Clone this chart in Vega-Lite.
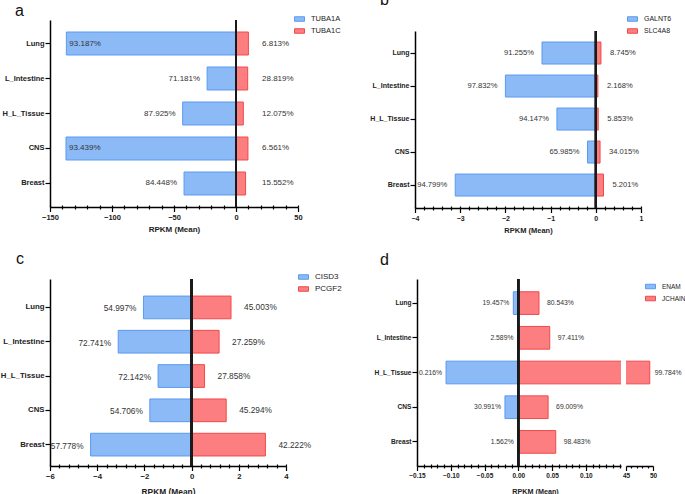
{
  "$schema": "https://vega.github.io/schema/vega-lite/v6.json",
  "locale": {"number": {"decimal": ".", "thousands": ",", "grouping": [3], "currency": ["$", ""], "minus": "-"}},
  "background": "white",
  "padding": {"left": 0, "top": -9, "right": 0, "bottom": 0},
  "spacing": 16,
  "config": {
    "font": "Liberation Sans",
    "view": {"stroke": null},
    "axis": {"domainColor": "#000", "domainWidth": 1.5, "tickColor": "#000", "tickWidth": 1.2, "labelColor": "#222", "titleColor": "#222", "labelFontWeight": "bold", "titleFontWeight": "bold", "grid": false, "labelOverlap": false, "labelFlush": false},
    "legend": {"title": null, "orient": "none", "padding": 0, "symbolType": "M-1,-0.45H1V0.45H-1Z", "symbolSize": 100, "symbolStrokeWidth": 1, "labelFontSize": 7.5, "labelColor": "#222", "labelOffset": 6, "rowPadding": 2},
    "title": {"fontWeight": "normal", "fontSize": 16, "anchor": "start", "frame": "group", "color": "#111", "offset": 0}
  },
  "datasets": {
    "a": [
      {"tissue": "Lung", "gene": "TUBA1A", "value": -136.8, "label": "93.187%"},
      {"tissue": "Lung", "gene": "TUBA1C", "value": 10.0, "label": "6.813%"},
      {"tissue": "L_Intestine", "gene": "TUBA1A", "value": -23.3, "label": "71.181%"},
      {"tissue": "L_Intestine", "gene": "TUBA1C", "value": 9.43, "label": "28.819%"},
      {"tissue": "H_L_Tissue", "gene": "TUBA1A", "value": -43.0, "label": "87.925%"},
      {"tissue": "H_L_Tissue", "gene": "TUBA1C", "value": 5.9, "label": "12.075%"},
      {"tissue": "CNS", "gene": "TUBA1A", "value": -137.1, "label": "93.439%"},
      {"tissue": "CNS", "gene": "TUBA1C", "value": 9.63, "label": "6.561%"},
      {"tissue": "Breast", "gene": "TUBA1A", "value": -41.9, "label": "84.448%"},
      {"tissue": "Breast", "gene": "TUBA1C", "value": 7.72, "label": "15.552%"}
    ],
    "b": [
      {"tissue": "Lung", "gene": "GALNT6", "value": -1.19, "label": "91.255%"},
      {"tissue": "Lung", "gene": "SLC4A8", "value": 0.114, "label": "8.745%"},
      {"tissue": "L_Intestine", "gene": "GALNT6", "value": -2.0, "label": "97.832%"},
      {"tissue": "L_Intestine", "gene": "SLC4A8", "value": 0.046, "label": "2.168%"},
      {"tissue": "H_L_Tissue", "gene": "GALNT6", "value": -0.86, "label": "94.147%"},
      {"tissue": "H_L_Tissue", "gene": "SLC4A8", "value": 0.0535, "label": "5.853%"},
      {"tissue": "CNS", "gene": "GALNT6", "value": -0.183, "label": "65.985%"},
      {"tissue": "CNS", "gene": "SLC4A8", "value": 0.0943, "label": "34.015%"},
      {"tissue": "Breast", "gene": "GALNT6", "value": -3.11, "label": "94.799%"},
      {"tissue": "Breast", "gene": "SLC4A8", "value": 0.171, "label": "5.201%"}
    ],
    "c": [
      {"tissue": "Lung", "gene": "CISD3", "value": -2.04, "label": "54.997%"},
      {"tissue": "Lung", "gene": "PCGF2", "value": 1.67, "label": "45.003%"},
      {"tissue": "L_Intestine", "gene": "CISD3", "value": -3.11, "label": "72.741%"},
      {"tissue": "L_Intestine", "gene": "PCGF2", "value": 1.165, "label": "27.259%"},
      {"tissue": "H_L_Tissue", "gene": "CISD3", "value": -1.42, "label": "72.142%"},
      {"tissue": "H_L_Tissue", "gene": "PCGF2", "value": 0.548, "label": "27.858%"},
      {"tissue": "CNS", "gene": "CISD3", "value": -1.77, "label": "54.706%"},
      {"tissue": "CNS", "gene": "PCGF2", "value": 1.466, "label": "45.294%"},
      {"tissue": "Breast", "gene": "CISD3", "value": -4.28, "label": "57.778%"},
      {"tissue": "Breast", "gene": "PCGF2", "value": 3.128, "label": "42.222%"}
    ],
    "d": [
      {"tissue": "Lung", "gene": "ENAM", "value": -0.0074, "label": "19.457%"},
      {"tissue": "Lung", "gene": "JCHAIN", "value": 0.0306, "label": "80.543%"},
      {"tissue": "L_Intestine", "gene": "ENAM", "value": -0.00124, "label": "2.589%"},
      {"tissue": "L_Intestine", "gene": "JCHAIN", "value": 0.0465, "label": "97.411%"},
      {"tissue": "H_L_Tissue", "gene": "ENAM", "value": -0.107, "label": "0.216%"},
      {"tissue": "H_L_Tissue", "gene": "JCHAIN", "value": 49.4, "label": "99.784%"},
      {"tissue": "CNS", "gene": "ENAM", "value": -0.0198, "label": "30.991%"},
      {"tissue": "CNS", "gene": "JCHAIN", "value": 0.0441, "label": "69.009%"},
      {"tissue": "Breast", "gene": "ENAM", "value": -0.00088, "label": "1.562%"},
      {"tissue": "Breast", "gene": "JCHAIN", "value": 0.0554, "label": "98.483%"}
    ]
  },
  "resolve": {"scale": {"fill": "independent", "stroke": "independent", "x": "independent", "y": "independent"}, "legend": {"fill": "independent", "stroke": "independent"}},
  "vconcat": [
    {
      "hconcat": [
        {
          "width": 248, "height": 187,
          "data": {"name": "a"},
          "title": {"text": "a", "dx": -35, "dy": 9},
          "resolve": {"axis": {"x": "independent"}},
          "layer": [
            {
              "mark": {"type": "bar", "strokeWidth": 1},
              "encoding": {
                "y": {"field": "tissue", "type": "nominal", "scale": {"domain": ["Lung", "L_Intestine", "H_L_Tissue", "CNS", "Breast"], "paddingInner": 0.343, "paddingOuter": 0.343, "align": 0.5}, "axis": {"title": null, "tickSize": 5, "labelPadding": 1, "labelFontSize": 7.5}},
                "x": {"field": "value", "type": "quantitative", "scale": {"domain": [-150, 50], "nice": false, "zero": false},
                  "axis": {"orient": "bottom", "title": "RPKM (Mean)", "values": [-150, -100, -50, 0, 50], "format": "d", "tickSize": 4.5, "labelFontSize": 7.5, "titleFontSize": 8, "labelPadding": 2, "titlePadding": 4}},
                "fill": {"field": "gene", "type": "nominal", "scale": {"domain": ["TUBA1A", "TUBA1C"], "range": ["#8cbaf6", "#fd7e80"]}, "legend": {"legendX": 244, "legendY": -6.5}},
                "stroke": {"field": "gene", "type": "nominal", "scale": {"domain": ["TUBA1A", "TUBA1C"], "range": ["#5a9af0", "#f04a4a"]}, "legend": {"legendX": 244, "legendY": -6.5}}
              }
            },
            {"mark": {"type": "rule", "color": "#1a1a1a", "strokeWidth": 1.8}, "encoding": {"x": {"datum": 0, "type": "quantitative", "axis": {"orient": "bottom", "title": null, "labels": false, "domain": false, "tickSize": 2, "values": [-140, -130, -120, -110, -90, -80, -70, -60, -40, -30, -20, -10, 10, 20, 30, 40]}}}},
            {
              "transform": [{"filter": "datum.gene === 'TUBA1A' && datum.value < -100"}],
              "mark": {"type": "text", "align": "left", "baseline": "middle", "dx": 3, "fontSize": 8, "color": "#333"},
              "encoding": {"y": {"field": "tissue", "type": "nominal"}, "x": {"field": "value", "type": "quantitative", "axis": {"orient": "bottom", "title": null, "labels": false, "domain": false, "tickSize": -2, "values": [-150, -140, -130, -120, -110, -100, -90, -80, -70, -60, -50, -40, -30, -20, -10, 0, 10, 20, 30, 40, 50]}}, "text": {"field": "label"}}
            },
            {
              "transform": [{"filter": "datum.gene === 'TUBA1A' && datum.value >= -100"}],
              "mark": {"type": "text", "align": "right", "baseline": "middle", "dx": -7, "fontSize": 8, "color": "#333"},
              "encoding": {"y": {"field": "tissue", "type": "nominal"}, "x": {"field": "value", "type": "quantitative", "axis": null}, "text": {"field": "label"}}
            },
            {
              "transform": [{"filter": "datum.gene === 'TUBA1C'"}],
              "mark": {"type": "text", "align": "left", "baseline": "middle", "fontSize": 8, "color": "#333"},
              "encoding": {"y": {"field": "tissue", "type": "nominal"}, "x": {"datum": 21, "type": "quantitative", "axis": null}, "text": {"field": "label"}}
            }
          ]
        },
        {
          "vconcat": [
            {"width": 10, "height": 11, "data": {"values": [{"k": 1}]}, "mark": {"type": "point", "opacity": 0}, "encoding": {}},
            {
              "width": 226, "height": 177,
              "data": {"name": "b"},
              "title": {"text": "b", "dx": -35, "dy": -2},
              "resolve": {"axis": {"x": "independent"}},
              "layer": [
                {
                  "mark": {"type": "bar", "strokeWidth": 1},
                  "encoding": {
                    "y": {"field": "tissue", "type": "nominal", "scale": {"domain": ["Lung", "L_Intestine", "H_L_Tissue", "CNS", "Breast"], "paddingInner": 0.333, "paddingOuter": 0.348, "align": 0.48}, "axis": {"title": null, "tickSize": 5, "labelPadding": 1, "labelFontSize": 7}},
                    "x": {"field": "value", "type": "quantitative", "scale": {"domain": [-4, 1], "nice": false, "zero": false},
                      "axis": {"orient": "bottom", "title": "RPKM (Mean)", "values": [-4, -3, -2, -1, 0, 1], "format": "d", "tickSize": 4.5, "labelFontSize": 7, "titleFontSize": 7.5, "labelPadding": 2, "titlePadding": 5}},
                    "fill": {"field": "gene", "type": "nominal", "scale": {"domain": ["GALNT6", "SLC4A8"], "range": ["#8cbaf6", "#fd7e80"]}, "legend": {"legendX": 212, "legendY": -17.5, "labelFontSize": 7}},
                    "stroke": {"field": "gene", "type": "nominal", "scale": {"domain": ["GALNT6", "SLC4A8"], "range": ["#5a9af0", "#f04a4a"]}, "legend": {"legendX": 212, "legendY": -17.5, "labelFontSize": 7}}
                  }
                },
                {"mark": {"type": "rule", "color": "#1a1a1a", "strokeWidth": 1.8}, "encoding": {"x": {"datum": 0, "type": "quantitative", "axis": {"orient": "bottom", "title": null, "labels": false, "domain": false, "tickSize": 2, "values": [-3.8, -3.6, -3.4, -3.2, -2.8, -2.6, -2.4, -2.2, -1.8, -1.6, -1.4, -1.2, -0.8, -0.6, -0.4, -0.2, 0.2, 0.4, 0.6, 0.8]}}}},
                {
                  "transform": [{"filter": "datum.gene === 'GALNT6'"}],
                  "mark": {"type": "text", "align": "right", "baseline": "middle", "dx": -8, "fontSize": 7.6, "color": "#333"},
                  "encoding": {"y": {"field": "tissue", "type": "nominal"}, "x": {"field": "value", "type": "quantitative", "axis": {"orient": "bottom", "title": null, "labels": false, "domain": false, "tickSize": -2, "values": [-4, -3.8, -3.6, -3.4, -3.2, -3, -2.8, -2.6, -2.4, -2.2, -2, -1.8, -1.6, -1.4, -1.2, -1, -0.8, -0.6, -0.4, -0.2, 0, 0.2, 0.4, 0.6, 0.8, 1]}}, "text": {"field": "label"}}
                },
                {
                  "transform": [{"filter": "datum.gene === 'SLC4A8'"}],
                  "mark": {"type": "text", "align": "left", "baseline": "middle", "dx": 9, "fontSize": 7.6, "color": "#333"},
                  "encoding": {"y": {"field": "tissue", "type": "nominal"}, "x": {"field": "value", "type": "quantitative", "axis": null}, "text": {"field": "label"}}
                }
              ]
            }
          ],
          "spacing": 0,
          "bounds": "flush",
          "resolve": {"scale": {"fill": "independent", "stroke": "independent", "x": "independent", "y": "independent"}, "legend": {"fill": "independent", "stroke": "independent"}}
        }
      ],
      "spacing": 117,
      "bounds": "flush",
      "resolve": {"scale": {"fill": "independent", "stroke": "independent", "x": "independent", "y": "independent"}, "legend": {"fill": "independent", "stroke": "independent"}}
    },
    {
      "hconcat": [
        {
          "width": 236, "height": 187,
          "data": {"name": "c"},
          "title": {"text": "c", "dx": -34, "dy": -1},
          "resolve": {"axis": {"x": "independent"}},
          "layer": [
            {
              "mark": {"type": "bar", "strokeWidth": 1},
              "encoding": {
                "y": {"field": "tissue", "type": "nominal", "scale": {"domain": ["Lung", "L_Intestine", "H_L_Tissue", "CNS", "Breast"], "paddingInner": 0.338, "paddingOuter": 0.395, "align": 0.63}, "axis": {"title": null, "tickSize": 5, "labelPadding": 1, "labelFontSize": 7.8}},
                "x": {"field": "value", "type": "quantitative", "scale": {"domain": [-6, 4], "nice": false, "zero": false},
                  "axis": {"orient": "bottom", "title": "RPKM (Mean)", "values": [-6, -4, -2, 0, 2, 4], "format": "d", "tickSize": 4.5, "labelFontSize": 7.8, "titleFontSize": 8.4, "labelPadding": 2, "titlePadding": 7}},
                "fill": {"field": "gene", "type": "nominal", "scale": {"domain": ["CISD3", "PCGF2"], "range": ["#8cbaf6", "#fd7e80"]}, "legend": {"legendX": 248, "legendY": -7.5, "labelFontSize": 8}},
                "stroke": {"field": "gene", "type": "nominal", "scale": {"domain": ["CISD3", "PCGF2"], "range": ["#5a9af0", "#f04a4a"]}, "legend": {"legendX": 248, "legendY": -7.5, "labelFontSize": 8}}
              }
            },
            {"mark": {"type": "rule", "color": "#1a1a1a", "strokeWidth": 1.8}, "encoding": {"x": {"datum": 0, "type": "quantitative", "axis": {"orient": "bottom", "title": null, "labels": false, "domain": false, "tickSize": 2, "values": [-5.6, -5.2, -4.8, -4.4, -3.6, -3.2, -2.8, -2.4, -1.6, -1.2, -0.8, -0.4, 0.4, 0.8, 1.2, 1.6, 2.4, 2.8, 3.2, 3.6]}}}},
            {
              "transform": [{"filter": "datum.gene === 'CISD3'"}],
              "mark": {"type": "text", "align": "right", "baseline": "middle", "dx": -7, "dy": 2, "fontSize": 8.3, "color": "#333"},
              "encoding": {"y": {"field": "tissue", "type": "nominal"}, "x": {"field": "value", "type": "quantitative", "axis": {"orient": "bottom", "title": null, "labels": false, "domain": false, "tickSize": -2, "values": [-6, -5.6, -5.2, -4.8, -4.4, -4, -3.6, -3.2, -2.8, -2.4, -2, -1.6, -1.2, -0.8, -0.4, 0, 0.4, 0.8, 1.2, 1.6, 2, 2.4, 2.8, 3.2, 3.6, 4]}}, "text": {"field": "label"}}
            },
            {
              "transform": [{"filter": "datum.gene === 'PCGF2'"}],
              "mark": {"type": "text", "align": "left", "baseline": "middle", "dx": 13, "dy": 1, "fontSize": 8.3, "color": "#333"},
              "encoding": {"y": {"field": "tissue", "type": "nominal"}, "x": {"field": "value", "type": "quantitative", "axis": null}, "text": {"field": "label"}}
            }
          ]
        },
        {
          "hconcat": [
            {
              "width": 204, "height": 187,
              "data": {"name": "d"},
              "title": {"text": "d", "dx": -37, "dy": -5.75},
              "resolve": {"axis": {"x": "independent"}},
              "layer": [
                {
                  "mark": {"type": "bar", "strokeWidth": 1, "clip": true},
                  "encoding": {
                    "y": {"field": "tissue", "type": "nominal", "scale": {"domain": ["Lung", "L_Intestine", "H_L_Tissue", "CNS", "Breast"], "paddingInner": 0.346, "paddingOuter": 0.3675, "align": 0.5}, "axis": {"title": null, "tickSize": 5, "labelPadding": 1, "labelFontSize": 6.6}},
                    "x": {"field": "value", "type": "quantitative", "scale": {"domain": [-0.15, 0.152], "nice": false, "zero": false},
                      "axis": {"orient": "bottom", "title": "RPKM (Mean)", "titleX": 118, "values": [-0.15, -0.1, -0.05, 0, 0.05, 0.1], "format": ".2f", "tickSize": 4.5, "labelFontSize": 6.5, "titleFontSize": 7.2, "labelPadding": 2, "titlePadding": 8}},
                    "fill": {"field": "gene", "type": "nominal", "scale": {"domain": ["ENAM", "JCHAIN"], "range": ["#8cbaf6", "#fd7e80"]}, "legend": null},
                    "stroke": {"field": "gene", "type": "nominal", "scale": {"domain": ["ENAM", "JCHAIN"], "range": ["#5a9af0", "#f04a4a"]}, "legend": null}
                  }
                },
                {"mark": {"type": "rule", "color": "#1a1a1a", "strokeWidth": 1.8}, "encoding": {"x": {"datum": 0, "type": "quantitative", "axis": {"orient": "bottom", "title": null, "labels": false, "domain": false, "tickSize": 2, "values": [-0.14, -0.13, -0.12, -0.11, -0.09, -0.08, -0.07, -0.06, -0.04, -0.03, -0.02, -0.01, 0.01, 0.02, 0.03, 0.04, 0.06, 0.07, 0.08, 0.09, 0.11, 0.12, 0.13, 0.14, 0.15]}}}},
                {
                  "transform": [{"filter": "datum.gene === 'ENAM'"}],
                  "mark": {"type": "text", "align": "right", "baseline": "middle", "dx": -4, "fontSize": 6.8, "color": "#333"},
                  "encoding": {"y": {"field": "tissue", "type": "nominal"}, "x": {"field": "value", "type": "quantitative", "axis": {"orient": "bottom", "title": null, "labels": false, "domain": false, "tickSize": -2, "values": [-0.15, -0.14, -0.13, -0.12, -0.11, -0.1, -0.09, -0.08, -0.07, -0.06, -0.05, -0.04, -0.03, -0.02, -0.01, 0, 0.01, 0.02, 0.03, 0.04, 0.05, 0.06, 0.07, 0.08, 0.09, 0.1, 0.11, 0.12, 0.13, 0.14, 0.15]}}, "text": {"field": "label"}}
                },
                {
                  "transform": [{"filter": "datum.gene === 'JCHAIN' && datum.value < 1"}],
                  "mark": {"type": "text", "align": "left", "baseline": "middle", "dx": 8, "fontSize": 6.8, "color": "#333"},
                  "encoding": {"y": {"field": "tissue", "type": "nominal"}, "x": {"field": "value", "type": "quantitative", "axis": null}, "text": {"field": "label"}}
                }
              ]
            },
            {
              "width": 27, "height": 187,
              "data": {"name": "d"},
              "resolve": {"axis": {"x": "independent"}},
              "layer": [
                {
                  "transform": [{"filter": "datum.value > 40"}],
                  "mark": {"type": "bar", "strokeWidth": 1, "clip": true},
                  "encoding": {
                    "y": {"field": "tissue", "type": "nominal", "scale": {"domain": ["Lung", "L_Intestine", "H_L_Tissue", "CNS", "Breast"], "paddingInner": 0.346, "paddingOuter": 0.3675, "align": 0.5}, "axis": null},
                    "x": {"field": "value", "type": "quantitative", "scale": {"domain": [45, 50], "nice": false, "zero": false},
                      "axis": {"orient": "bottom", "title": null, "values": [45, 50], "format": "d", "tickSize": 4.5, "labelFontSize": 6.5, "labelPadding": 2}},
                    "fill": {"field": "gene", "type": "nominal", "scale": {"domain": ["ENAM", "JCHAIN"], "range": ["#8cbaf6", "#fd7e80"]}, "legend": {"legendX": 19, "legendY": 2, "labelFontSize": 6.5}},
                    "stroke": {"field": "gene", "type": "nominal", "scale": {"domain": ["ENAM", "JCHAIN"], "range": ["#5a9af0", "#f04a4a"]}, "legend": {"legendX": 19, "legendY": 2, "labelFontSize": 6.5}}
                  }
                },
                {
                  "transform": [{"filter": "datum.value > 40"}],
                  "mark": {"type": "text", "align": "left", "baseline": "middle", "dx": 5, "fontSize": 6.8, "color": "#333"},
                  "encoding": {"y": {"field": "tissue", "type": "nominal"}, "x": {"field": "value", "type": "quantitative", "axis": {"orient": "bottom", "title": null, "labels": false, "domain": false, "tickSize": 2, "values": [46, 47, 48, 49]}}, "text": {"field": "label"}}
                }
              ]
            }
          ],
          "spacing": 5,
          "bounds": "flush",
          "resolve": {"scale": {"fill": "independent", "stroke": "independent", "x": "independent", "y": "independent"}, "legend": {"fill": "independent", "stroke": "independent"}}
        }
      ],
      "spacing": 131,
      "bounds": "flush",
      "resolve": {"scale": {"fill": "independent", "stroke": "independent", "x": "independent", "y": "independent"}, "legend": {"fill": "independent", "stroke": "independent"}}
    }
  ]
}
